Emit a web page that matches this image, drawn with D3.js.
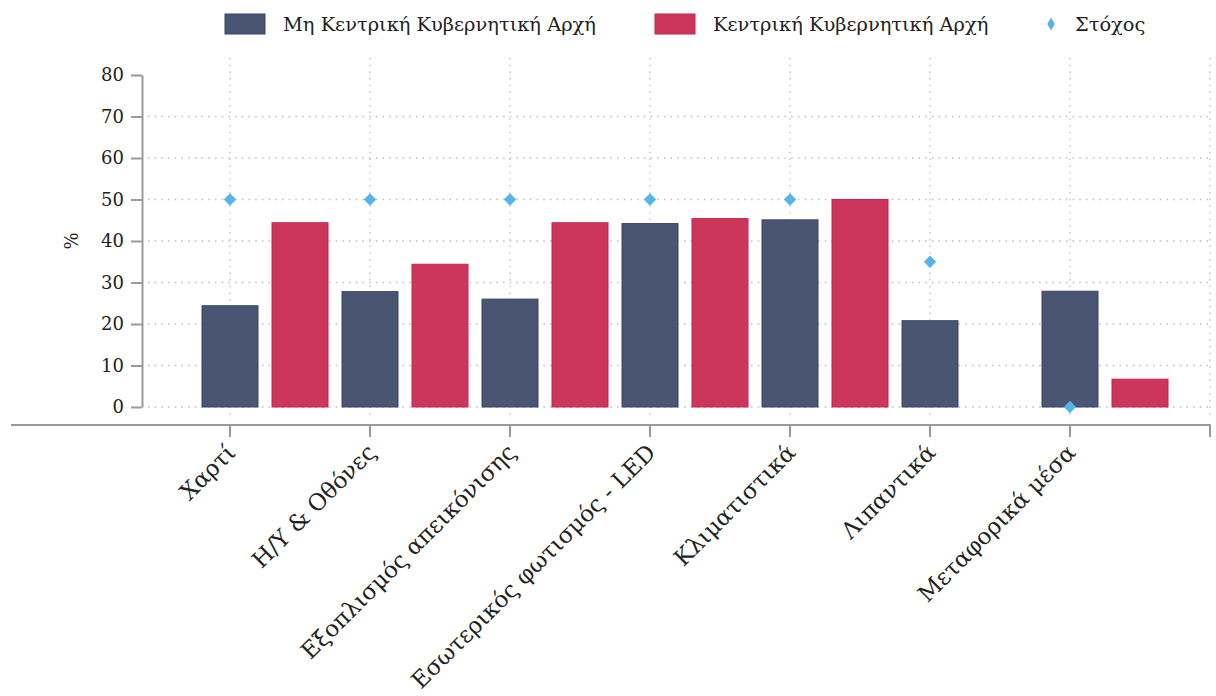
<!DOCTYPE html>
<html>
<head>
<meta charset="utf-8">
<script src="https://cdn.jsdelivr.net/npm/d3@7"></script>
<style>
  html, body { margin: 0; padding: 0; background: #fff; }
  svg { display: block; }
  text { font-family: "DejaVu Serif", "Liberation Serif", serif; fill: #222; }
</style>
</head>
<body>
<svg id="chart" width="1216" height="696"></svg>
<script>
const categories = ["Χαρτί", "Η/Υ & Οθόνες", "Εξοπλισμός απεικόνισης", "Εσωτερικός φωτισμός - LED", "Κλιματιστικά", "Λιπαντικά", "Μεταφορικά μέσα"];
const nonCentral = [24.4, 27.8, 26.0, 44.2, 45.1, 20.8, 27.9];
const central = [44.4, 34.4, 44.4, 45.4, 50.0, null, 6.7];
const target = [50, 50, 50, 50, 50, 35, 0];
const yTicks = [0, 10, 20, 30, 40, 50, 60, 70, 80];
const seriesNames = ["Μη Κεντρική Κυβερνητική Αρχή", "Κεντρική Κυβερνητική Αρχή", "Στόχος"];
const yLabel = "%";

const colDark = "#4a5573", strokeDark = "#3b4768";
const colRed = "#cc365a", strokeRed = "#c8234d";
const colTarget = "#55b4e8";
const axisCol = "#9a9a9a", gridCol = "#bdbdbd";

const svg = d3.select("#chart");

const x = d3.scalePoint().domain(categories).range([230, 1070]);
const step = x.step();
const y = d3.scaleLinear().domain([0, 80]).range([407, 75]);
const xEnd = x(categories[categories.length - 1]) + step;
const barW = step * 0.4;

// grid
const grid = svg.append("g");
grid.selectAll(".hg").data(yTicks.filter(d => d < 80)).join("line")
  .attr("x1", 148).attr("x2", xEnd + 2)
  .attr("y1", d => y(d)).attr("y2", d => y(d))
  .attr("stroke", gridCol).attr("stroke-width", 1.3).attr("stroke-dasharray", "1.5,5.2");
grid.selectAll(".vg").data([...categories.map(c => x(c)), xEnd]).join("line")
  .attr("x1", d => d).attr("x2", d => d)
  .attr("y1", 58).attr("y2", 420)
  .attr("stroke", gridCol).attr("stroke-width", 1.3).attr("stroke-dasharray", "1.5,5.2");

// bars
svg.append("g").selectAll("rect").data(categories.map((c, i) => ({c, v: nonCentral[i]})).filter(d => d.v != null)).join("rect")
  .attr("x", d => x(d.c) - barW / 2).attr("width", barW)
  .attr("y", d => y(d.v)).attr("height", d => y(0) - y(d.v))
  .attr("fill", colDark).attr("stroke", strokeDark).attr("stroke-width", 1);
svg.append("g").selectAll("rect").data(categories.map((c, i) => ({c, v: central[i]})).filter(d => d.v != null)).join("rect")
  .attr("x", d => x(d.c) + step / 2 - barW / 2).attr("width", barW)
  .attr("y", d => y(d.v)).attr("height", d => y(0) - y(d.v))
  .attr("fill", colRed).attr("stroke", strokeRed).attr("stroke-width", 1);

// targets
const diamond = d3.symbol().type(d3.symbolSquare).size(76);
svg.append("g").selectAll("path").data(categories.map((c, i) => ({c, v: target[i]}))).join("path")
  .attr("d", diamond)
  .attr("transform", d => `translate(${x(d.c)},${y(d.v)}) rotate(45)`)
  .attr("fill", colTarget);

// y axis
const yAxis = svg.append("g").attr("transform", "translate(142,0)")
  .call(d3.axisLeft(y).tickValues(yTicks).tickSize(11).tickPadding(7).tickSizeOuter(0));
yAxis.select(".domain").attr("stroke", axisCol).attr("stroke-width", 2);
yAxis.selectAll(".tick line").attr("stroke", axisCol).attr("stroke-width", 2);
yAxis.selectAll(".tick text").attr("font-family", "DejaVu Serif").attr("font-size", 18).attr("fill", "#222");

// x axis
const xg = svg.append("g");
xg.append("line").attr("x1", 11).attr("x2", xEnd + 1).attr("y1", 425).attr("y2", 425)
  .attr("stroke", axisCol).attr("stroke-width", 2);
xg.selectAll(".xt").data([...categories.map(c => x(c)), xEnd]).join("line")
  .attr("x1", d => d).attr("x2", d => d).attr("y1", 424).attr("y2", 437)
  .attr("stroke", axisCol).attr("stroke-width", 2);
xg.selectAll("text").data(categories).join("text")
  .attr("transform", d => `translate(${x(d) + 7},454) rotate(-45)`)
  .attr("text-anchor", "end")
  .attr("font-size", 23)
  .text(d => d);

// y label
svg.append("text").attr("transform", "translate(78,241) rotate(-90)")
  .attr("text-anchor", "middle").attr("font-size", 18).text(yLabel);

// legend
const lg = svg.append("g");
lg.append("rect").attr("x", 225).attr("y", 14).attr("width", 40).attr("height", 20)
  .attr("fill", colDark).attr("stroke", strokeDark);
lg.append("text").attr("x", 283).attr("y", 31).attr("font-size", 19.4).text(seriesNames[0]);
lg.append("rect").attr("x", 655).attr("y", 14).attr("width", 40).attr("height", 20)
  .attr("fill", colRed).attr("stroke", strokeRed);
lg.append("text").attr("x", 713).attr("y", 31).attr("font-size", 19.4).text(seriesNames[1]);
lg.append("path").attr("d", d3.symbol().type(d3.symbolDiamond).size(50)())
  .attr("transform", "translate(1051,24)").attr("fill", colTarget);
lg.append("text").attr("x", 1075).attr("y", 31).attr("font-size", 19.4).text(seriesNames[2]);
</script>
</body>
</html>
